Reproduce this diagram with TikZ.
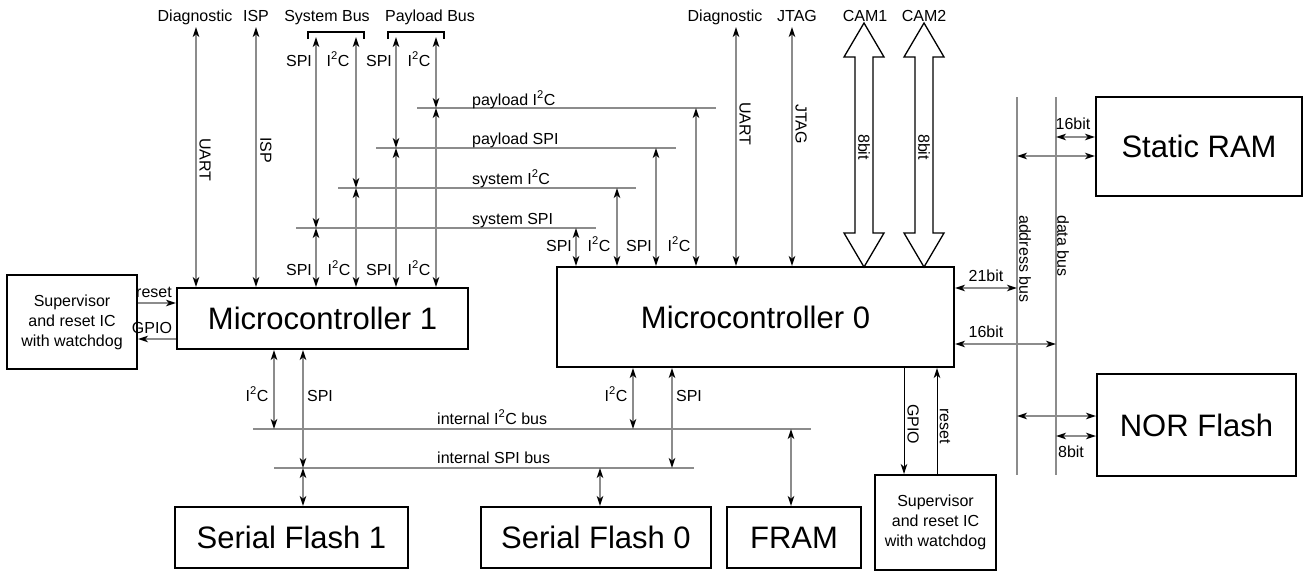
\documentclass[tikz,border=0pt]{standalone}
\usepackage{fontspec}
\setmainfont{Liberation Sans}
\usetikzlibrary{arrows.meta,calc}
\definecolor{lgray}{HTML}{8C8C8C}
\begin{document}
\begin{tikzpicture}[x=1pt,y=-1pt,
  box/.style={draw=black,line width=2pt,inner sep=0pt,font=\fontsize{31}{36}\selectfont},
  supbox/.style={draw=black,line width=2pt,inner sep=0pt,align=center,font=\fontsize{16}{20}\selectfont},
  lbl/.style={inner sep=0pt,anchor=base,font=\fontsize{16}{19}\selectfont},
  vlbl/.style={inner sep=0pt,rotate=-90,font=\fontsize{16}{19}\selectfont},
  conn/.style={draw=lgray,line width=1.5pt},
  blk/.style={draw=black,line width=1pt},
  brk/.style={draw=black,line width=2pt},
  fat/.style={draw=black,line width=1.3pt,fill=white,line join=miter},
  >={Stealth[length=10pt,width=6.5pt,inset=2.8pt,color=black]}
]
\useasboundingbox (0,0) rectangle (1308,582);

% ---------------- boxes ----------------
\node[supbox,minimum width=130pt,minimum height=94pt] (sup1) at (72,322) {Supervisor\\and reset IC\\with watchdog};
\node[box,minimum width=291pt,minimum height=61pt] (m1) at (322.5,318.5) {Microcontroller 1};
\node[box,minimum width=397pt,minimum height=100pt] (m0) at (755.5,317) {Microcontroller 0};
\node[box,minimum width=206pt,minimum height=99pt] (sram) at (1199,146.5) {Static RAM};
\node[box,minimum width=199pt,minimum height=102pt] (nor) at (1196.5,425) {NOR Flash};
\node[box,minimum width=233pt,minimum height=61pt] (sf1) at (291.5,537.5) {Serial Flash 1};
\node[box,minimum width=230pt,minimum height=61pt] (sf0) at (596,537.5) {Serial Flash 0};
\node[box,minimum width=134pt,minimum height=61pt] (fram) at (794,537.5) {FRAM};
\node[supbox,minimum width=121pt,minimum height=95pt] (sup0) at (935.5,522.5) {Supervisor\\and reset IC\\with watchdog};

% ---------------- top labels ----------------
\node[lbl] (diag1) at (195,21) {Diagnostic};
\node[lbl] (isp) at (256,21) {ISP};
\node[lbl] (sysbus) at (327,21) {System Bus};
\node[lbl] (paybus) at (430,21) {Payload Bus};
\node[lbl] (diag0) at (725,21) {Diagnostic};
\node[lbl] (jtag) at (797,21) {JTAG};
\node[lbl] (cam1) at (865,21) {CAM1};
\node[lbl] (cam2) at (924,21) {CAM2};

% brackets
\draw[brk] (308,39) -- (308,32) -- (364,32) -- (364,39);
\draw[brk] (388,39) -- (388,32) -- (444,32) -- (444,39);

\node[lbl] at (299,66) {SPI};
\node[lbl] at (338,66) {I\textsuperscript{2}C};
\node[lbl] at (379,66) {SPI};
\node[lbl] at (419,66) {I\textsuperscript{2}C};

% ---------------- upper buses ----------------
\coordinate (pi2cL) at (417,108); \coordinate (pi2cR) at (716,108);
\coordinate (pspiL) at (376,148); \coordinate (pspiR) at (676,148);
\coordinate (si2cL) at (338,188); \coordinate (si2cR) at (636,188);
\coordinate (sspiL) at (296,228); \coordinate (sspiR) at (596,228);
\draw[conn] (pi2cL) -- (pi2cR);
\draw[conn] (pspiL) -- (pspiR);
\draw[conn] (si2cL) -- (si2cR);
\draw[conn] (sspiL) -- (sspiR);
\node[lbl,anchor=base west] (lpi2c) at (472,105) {payload I\textsuperscript{2}C};
\node[lbl,anchor=base west] (lpspi) at (472,144) {payload SPI};
\node[lbl,anchor=base west] (lsi2c) at (472,184) {system I\textsuperscript{2}C};
\node[lbl,anchor=base west] (lsspi) at (472,224) {system SPI};

% Microcontroller 1 upward lines
\coordinate (d1t) at (196,27);
\coordinate (ispt) at (256,27);
\draw[conn,<->] (d1t) -- (d1t |- m1.north);
\draw[conn,<->] (ispt) -- (ispt |- m1.north);
\node[vlbl] at (205,160) {UART};
\node[vlbl] at (266,150) {ISP};

\coordinate (sst) at (316,37);
\coordinate (sit) at (356,37);
\coordinate (pst) at (396,37);
\coordinate (pit) at (436,37);
\draw[conn,<->] (sst) -- (sst |- sspiL);
\draw[conn,<->] (sst |- sspiL) -- (sst |- m1.north);
\draw[conn,<->] (sit) -- (sit |- si2cL);
\draw[conn,<->] (sit |- si2cL) -- (sit |- m1.north);
\draw[conn,<->] (pst) -- (pst |- pspiL);
\draw[conn,<->] (pst |- pspiL) -- (pst |- m1.north);
\draw[conn,<->] (pit) -- (pit |- pi2cL);
\draw[conn,<->] (pit |- pi2cL) -- (pit |- m1.north);

\node[lbl] at (299,275) {SPI};
\node[lbl] at (339,275) {I\textsuperscript{2}C};
\node[lbl] at (379,275) {SPI};
\node[lbl] at (419,275) {I\textsuperscript{2}C};

% Microcontroller 0 taps
\coordinate (t1) at (576,228);
\coordinate (t2) at (617,188);
\coordinate (t3) at (656,148);
\coordinate (t4) at (696,108);
\draw[conn,<->] (t1) -- (t1 |- m0.north);
\draw[conn,<->] (t2) -- (t2 |- m0.north);
\draw[conn,<->] (t3) -- (t3 |- m0.north);
\draw[conn,<->] (t4) -- (t4 |- m0.north);
\node[lbl] at (559,251) {SPI};
\node[lbl] at (599,251) {I\textsuperscript{2}C};
\node[lbl] at (639,251) {SPI};
\node[lbl] at (679,251) {I\textsuperscript{2}C};

\coordinate (d0t) at (736,27);
\coordinate (jt) at (792,27);
\draw[conn,<->] (d0t) -- (d0t |- m0.north);
\draw[conn,<->] (jt) -- (jt |- m0.north);
\node[vlbl] at (745,124) {UART};
\node[vlbl] at (801,124) {JTAG};

% camera fat arrows
\foreach \cx in {864,924}{
  \draw[fat] (\cx,23) -- (\cx+20,57) -- (\cx+9,57) -- (\cx+9,233) -- (\cx+20,233)
    -- (\cx,267) -- (\cx-20,233) -- (\cx-9,233) -- (\cx-9,57) -- (\cx-20,57) -- cycle;
  \node[vlbl] at (\cx,147) {8bit};
}

% ---------------- left supervisor ----------------
\coordinate (yr1) at (0,303);
\coordinate (yg1) at (0,339);
\draw[conn,->] (sup1.east |- yr1) -- (m1.west |- yr1);
\draw[conn,->] (m1.west |- yg1) -- (sup1.east |- yg1);
\node[lbl] at (154,297) {reset};
\node[lbl] at (152,333) {GPIO};

% ---------------- right memory buses ----------------
\coordinate (abT) at (1017,97); \coordinate (abB) at (1017,475);
\coordinate (dbT) at (1056,97); \coordinate (dbB) at (1056,475);
\draw[conn] (abT) -- (abB);
\draw[conn] (dbT) -- (dbB);
\node[vlbl,anchor=west] at (1025,215) {address bus};
\node[vlbl,anchor=west] at (1063,215) {data bus};

\coordinate (y21) at (0,288);
\coordinate (y16) at (0,344);
\coordinate (ys1) at (0,137);
\coordinate (ys2) at (0,156);
\coordinate (yn1) at (0,416);
\coordinate (yn2) at (0,436);
\draw[conn,<->] (m0.east |- y21) -- (abT |- y21);
\draw[conn,<->] (m0.east |- y16) -- (dbT |- y16);
\draw[conn,<->] (dbT |- ys1) -- (sram.west |- ys1);
\draw[conn,<->] (abT |- ys2) -- (sram.west |- ys2);
\draw[conn,<->] (abT |- yn1) -- (nor.west |- yn1);
\draw[conn,<->] (dbT |- yn2) -- (nor.west |- yn2);
\node[lbl] at (986,281) {21bit};
\node[lbl] at (986,337) {16bit};
\node[lbl] at (1073,129) {16bit};
\node[lbl] at (1071,457) {8bit};

% ---------------- right supervisor ----------------
\coordinate (gx) at (904,0);
\coordinate (rx) at (937,0);
\draw[blk,->] (gx |- m0.south) -- (gx |- sup0.north);
\draw[blk,->] (rx |- sup0.north) -- (rx |- m0.south);
\node[vlbl] at (913,424) {GPIO};
\node[vlbl] at (945,426) {reset};

% ---------------- internal buses ----------------
\coordinate (ii2cL) at (253,429); \coordinate (ii2cR) at (811,429);
\coordinate (ispiL) at (274,468); \coordinate (ispiR) at (694,468);
\draw[conn] (ii2cL) -- (ii2cR);
\draw[conn] (ispiL) -- (ispiR);
\node[lbl,anchor=base west] at (437,424) {internal I\textsuperscript{2}C bus};
\node[lbl,anchor=base west] at (437,463) {internal SPI bus};

\coordinate (b1) at (274,429);
\coordinate (b2) at (303,468);
\coordinate (b3) at (633,429);
\coordinate (b4) at (672,468);
\coordinate (b5) at (600,468);
\coordinate (b6) at (791,429);
\draw[conn,<->] (b1 |- m1.south) -- (b1);
\draw[conn,<->] (b2 |- m1.south) -- (b2);
\draw[conn,<->] (b2) -- (b2 |- sf1.north);
\draw[conn,<->] (b3 |- m0.south) -- (b3);
\draw[conn,<->] (b4 |- m0.south) -- (b4);
\draw[conn,<->] (b5) -- (b5 |- sf0.north);
\draw[conn,<->] (b6) -- (b6 |- fram.north);
\node[lbl] at (257,401) {I\textsuperscript{2}C};
\node[lbl] at (320,401) {SPI};
\node[lbl] at (616,401) {I\textsuperscript{2}C};
\node[lbl] at (689,401) {SPI};
\end{tikzpicture}
\end{document}
